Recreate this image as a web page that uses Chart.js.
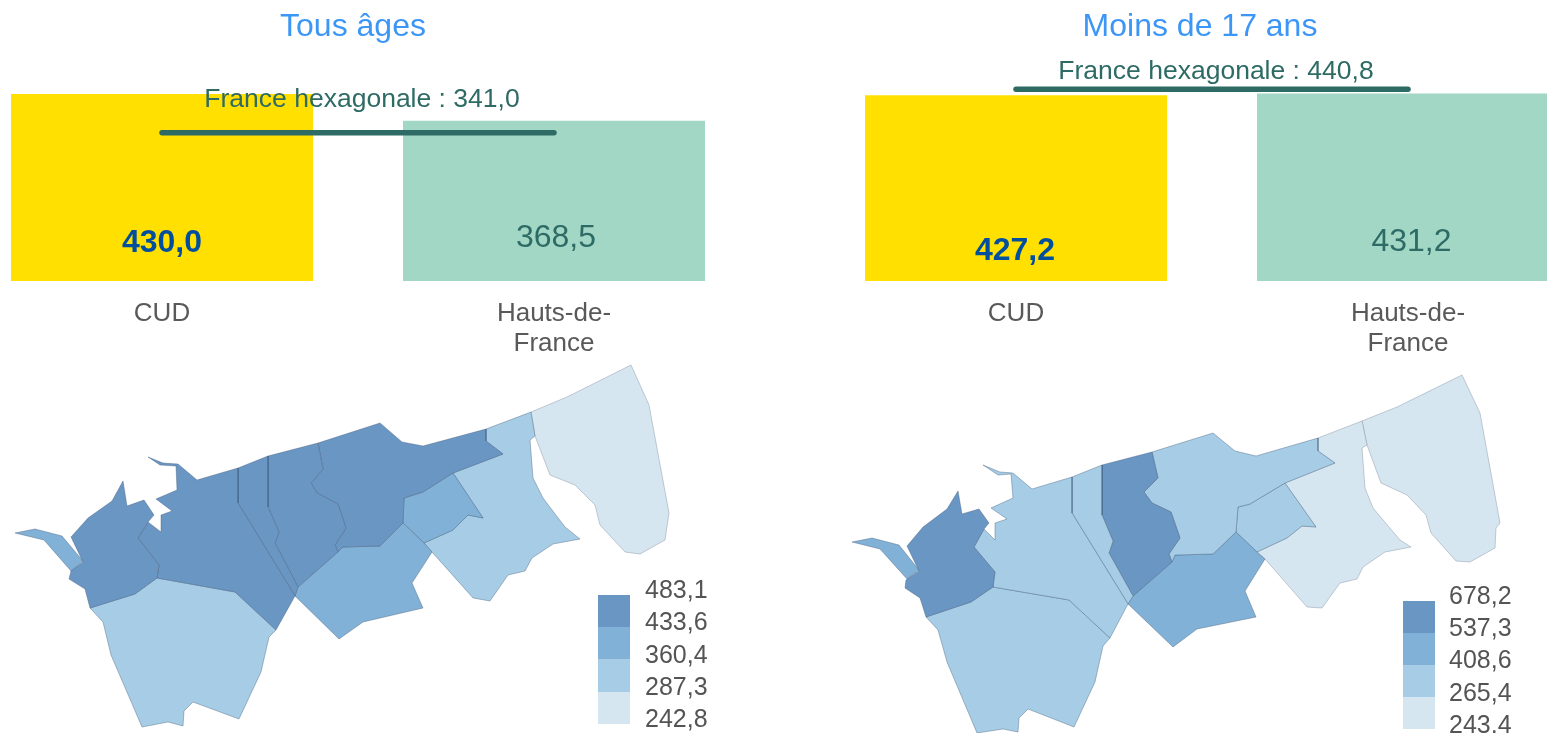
<!DOCTYPE html>
<html><head><meta charset="utf-8">
<style>html,body{margin:0;padding:0;width:1547px;height:733px;overflow:hidden;background:#fff}canvas{position:absolute;display:block}</style>
<script src="https://cdn.jsdelivr.net/npm/chart.js@4"></script>
</head><body>
<canvas id="mapL" width="773" height="373" style="left:0;top:360px"></canvas>
<canvas id="mapR" width="774" height="373" style="left:773px;top:360px"></canvas>
<canvas id="barL" width="794" height="360" style="left:-44px;top:0"></canvas>
<canvas id="barR" width="808" height="360" style="left:796px;top:0"></canvas>
<script>
const categories=[['CUD'],['Hauts-de-','France']];
const allAgesValues=[430.0,368.5];
const under17Values=[427.2,431.2];
const allAgesFrance=341.0;
const under17France=440.8;
const allAgesLegend=['483,1','433,6','360,4','287,3','242,8'];
const under17Legend=['678,2','537,3','408,6','265,4','243,4'];

const leftA=[[71,537],[88,518],[112,501],[123,481],[127,506],[144,500],[154,515],[148,522],[138,538],[159,565],[157,578],[135,594],[90,608],[85,589],[69,579],[71,571],[83,562]];
const leftB=[[15,533],[35,529],[62,536],[83,561],[71,571],[44,540]];
const leftC=[[148,522],[161,532],[161,515],[172,511],[156,499],[177,490],[176,466],[160,465],[148,457],[163,463],[178,464],[197,480],[238,468],[238,503],[295,596],[276,630],[235,592],[157,578],[159,565],[138,538]];
const leftD=[[238,468],[268,456],[268,507],[279,532],[275,543],[298,587],[295,596],[238,503]];
const leftE=[[268,456],[318,443],[323,469],[311,483],[317,493],[338,504],[346,528],[335,545],[338,552],[298,587],[275,543],[279,532],[268,507]];
const leftF=[[318,443],[380,423],[402,442],[423,446],[486,429],[486,441],[503,454],[453,473],[423,492],[404,498],[403,523],[380,546],[343,547],[338,552],[335,545],[346,528],[338,504],[317,493],[311,483],[323,469]];
const leftG=[[403,523],[424,543],[432,552],[412,583],[423,608],[363,622],[339,639],[295,596],[298,587],[338,552],[343,547],[380,546]];
const leftH=[[403,523],[404,498],[423,492],[453,473],[483,518],[468,515],[453,530],[424,543]];
const leftI=[[486,429],[531,412],[535,436],[530,440],[533,478],[543,498],[565,527],[580,539],[553,544],[532,558],[525,571],[508,575],[490,601],[473,598],[432,552],[424,543],[453,530],[468,515],[483,518],[453,473],[503,454],[486,441]];
const leftJ=[[531,412],[567,397],[631,365],[649,405],[669,513],[665,540],[640,554],[625,552],[600,525],[595,505],[575,485],[550,475],[535,436]];
const leftK=[[90,608],[135,594],[157,578],[235,592],[276,630],[269,637],[261,672],[239,719],[193,702],[184,711],[183,726],[168,722],[142,727],[111,655],[103,622]];

const rightA=[[907,546],[923,527],[947,509],[958,491],[962,514],[979,509],[989,523],[984,529],[974,547],[995,572],[993,587],[971,602],[926,617],[920,598],[905,588],[906,580],[919,571]];
const rightB=[[852,542],[872,538],[899,545],[919,570],[907,579],[880,549]];
const rightC=[[984,529],[995,540],[995,523],[1007,519],[991,508],[1013,498],[1011,474],[998,475],[983,465],[1000,472],[1013,473],[1032,489],[1072,477],[1072,513],[1128,604],[1110,638],[1069,600],[993,587],[995,572],[974,547]];
const rightD=[[1072,477],[1102,465],[1102,515],[1113,541],[1109,553],[1133,596],[1128,604],[1072,513]];
const rightE=[[1102,465],[1152,452],[1158,478],[1144,492],[1152,503],[1171,512],[1180,538],[1169,554],[1172,562],[1133,596],[1109,553],[1113,541],[1102,515]];
const rightF=[[1152,452],[1213,433],[1235,451],[1256,456],[1318,438],[1318,451],[1335,463],[1285,483],[1250,504],[1238,507],[1236,532],[1213,554],[1175,555],[1172,562],[1169,554],[1180,538],[1171,512],[1152,503],[1144,492],[1158,478]];
const rightG=[[1236,532],[1257,552],[1265,559],[1245,591],[1256,617],[1197,629],[1173,647],[1128,604],[1133,596],[1172,562],[1175,555],[1213,554]];
const rightH=[[1236,532],[1238,507],[1250,504],[1285,483],[1316,527],[1302,526],[1287,538],[1257,552]];
const rightI=[[1318,438],[1362,421],[1367,445],[1362,448],[1365,488],[1373,508],[1400,540],[1411,547],[1385,552],[1363,567],[1357,579],[1340,583],[1322,608],[1307,607],[1265,559],[1257,552],[1287,538],[1302,526],[1316,527],[1285,483],[1335,463],[1318,451]];
const rightJ=[[1362,421],[1397,407],[1462,375],[1480,413],[1500,523],[1496,528],[1495,548],[1470,562],[1456,561],[1431,533],[1426,515],[1407,495],[1381,483],[1367,445]];
const rightK=[[926,617],[971,602],[993,587],[1069,600],[1110,638],[1103,646],[1095,682],[1074,727],[1028,709],[1019,718],[1018,732],[1003,729],[977,733],[947,662],[938,630]];

const leftClasses=[0,1,0,0,0,0,1,1,2,3,2];
const rightClasses=[0,1,2,2,0,2,1,2,3,3,2];

const FONT='"Liberation Sans",Arial,sans-serif';
const PALETTE=['#6A96C4','#81B1D6','#A6CDE5','#D6E6F1'];
const TEAL='#2E6B65';

function closed(p){return p.concat([p[0]]).map(q=>({x:q[0],y:q[1]}));}

function mapChart(id,regions,classes,labels,xMin,xMax,lg){
  const ds=regions.map((r,i)=>({data:closed(r),showLine:true,fill:'shape',tension:0,pointRadius:0,
    backgroundColor:PALETTE[classes[i]],borderColor:classes[i]===3?'rgba(130,145,160,.45)':'rgba(60,85,115,.38)',borderWidth:1}));
  PALETTE.forEach((c,i)=>{
    const y0=lg.ys[i],y1=lg.ys[i+1];
    ds.push({data:closed([[lg.x0,y0],[lg.x1,y0],[lg.x1,y1],[lg.x0,y1]]),showLine:true,fill:'shape',tension:0,pointRadius:0,
      backgroundColor:c,borderColor:c,borderWidth:0,clip:false});
  });
  new Chart(document.getElementById(id),{type:'scatter',data:{datasets:ds},
    options:{responsive:false,animation:false,events:[],layout:{padding:0},
      plugins:{legend:{display:false},tooltip:{enabled:false},title:{display:false}},
      scales:{x:{type:'linear',display:false,min:xMin,max:xMax},y:{type:'linear',display:false,min:360,max:733,reverse:true}}},
    plugins:[{id:'legendText',afterDatasetsDraw(ch){
      const c=ch.ctx,sx=ch.scales.x,sy=ch.scales.y;
      c.save();c.font='25px '+FONT;c.fillStyle='#545454';c.textAlign='left';c.textBaseline='middle';
      labels.forEach((t,i)=>c.fillText(t,sx.getPixelForValue(lg.tx),sy.getPixelForValue(lg.ty[i])));
      c.restore();
    }}]});
}

function barChart(id,title,values,france,padLeft,fmt){
  new Chart(document.getElementById(id),{type:'bar',
    data:{labels:categories,datasets:[
      {type:'line',data:[france,france],borderColor:TEAL,borderWidth:5.5,borderCapStyle:'round',pointRadius:0,fill:false,order:0,clip:false},
      {type:'bar',data:values,backgroundColor:['#FFE000','#A2D7C6'],categoryPercentage:1,barPercentage:0.7704,order:1}
    ]},
    options:{responsive:false,animation:false,events:[],layout:{padding:0},
      plugins:{legend:{display:false},tooltip:{enabled:false},
        title:{display:true,text:title,color:'#3C96F5',font:{family:FONT,size:32,weight:'normal'},padding:{top:8,bottom:17.15}}},
      scales:{
        x:{grid:{display:false},border:{display:false},afterFit(s){s.height=79;},
           ticks:{color:'#595959',font:{family:FONT,size:26,lineHeight:1.154},padding:10,autoSkip:false,maxRotation:0}},
        y:{min:0,max:500,grid:{display:false},border:{display:false},ticks:{display:false},afterFit(s){s.width=padLeft;}}
      }},
    plugins:[{id:'texts',afterDatasetsDraw(ch){
      const c=ch.ctx,sx=ch.scales.x,sy=ch.scales.y;
      c.save();c.textAlign='center';c.textBaseline='middle';
      values.forEach((v,i)=>{
        c.font=(i===0?'bold ':'')+'32px '+FONT;
        c.fillStyle=i===0?'#004F9F':TEAL;
        c.fillText(v.toFixed(1).replace('.',','),sx.getPixelForValue(i)+fmt.vdx[i],sy.getPixelForValue(0)-fmt.vup[i]);
      });
      c.font='26.5px '+FONT;c.fillStyle=TEAL;
      c.fillText('France hexagonale : '+france.toFixed(1).replace('.',','),(sx.getPixelForValue(0)+sx.getPixelForValue(1))/2+4,sy.getPixelForValue(france)-fmt.lup);
      c.restore();
    }}]});
}

barChart('barL','Tous âges',allAgesValues,allAgesFrance,10,{vdx:[0,2],vup:[38,43],lup:33});
barChart('barR','Moins de 17 ans',under17Values,under17France,24,{vdx:[-1,3.5],vup:[30,39],lup:18});

mapChart('mapL',[leftA,leftB,leftC,leftD,leftE,leftF,leftG,leftH,leftI,leftJ,leftK],leftClasses,allAgesLegend,0,773,
  {x0:598,x1:630,ys:[595,627,659,692,724],tx:645,ty:[591,623,656,688,720]});
mapChart('mapR',[rightA,rightB,rightC,rightD,rightE,rightF,rightG,rightH,rightI,rightJ,rightK],rightClasses,under17Legend,773,1547,
  {x0:1403,x1:1435,ys:[601,633,665,697,729],tx:1449,ty:[597,629,661,694,726]});
</script>
</body></html>
